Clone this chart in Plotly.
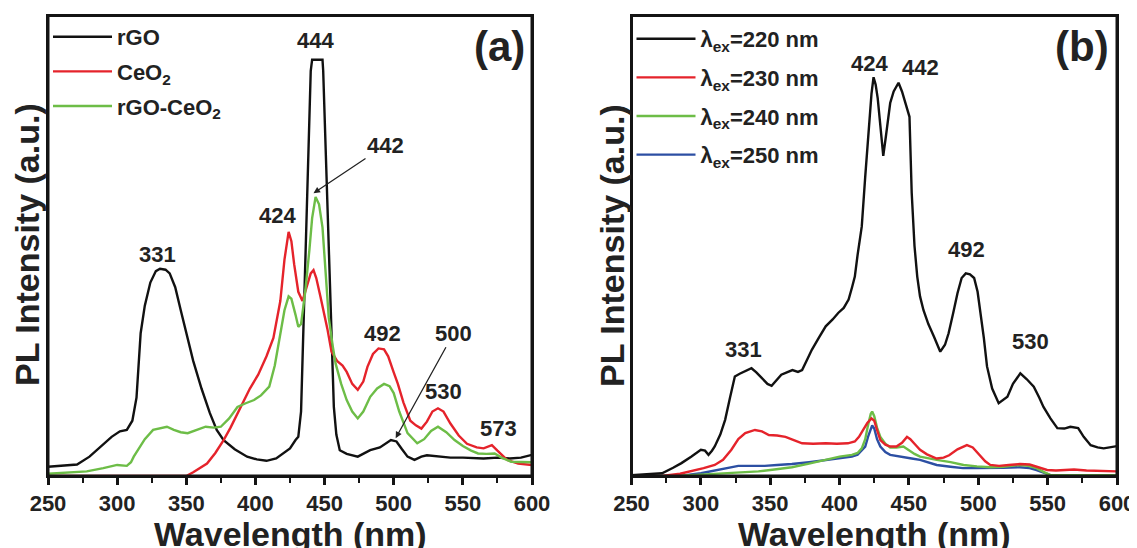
import plotly.graph_objects as go

# ---------------- Panel (a) data ----------------
wl_rgo = [250, 260, 271, 280, 288, 296, 302, 307, 311, 314, 317, 320, 324, 328, 331, 335, 338, 342, 346, 350,
          355, 361, 367, 372, 377, 385, 394, 401, 408, 415, 420, 425, 429, 431, 433, 435, 436.5, 438, 440, 441,
          448.5, 449, 451, 453, 455, 456.7, 458.5, 461, 466, 474, 483, 490, 498, 502, 506, 510, 515, 520, 524,
          532, 541, 550, 565, 575, 584, 592, 600]
int_rgo = [0.020, 0.022, 0.025, 0.042, 0.064, 0.085, 0.097, 0.100, 0.12, 0.17, 0.31, 0.37, 0.42, 0.445, 0.45,
           0.448, 0.44, 0.41, 0.36, 0.31, 0.25, 0.19, 0.137, 0.10, 0.078, 0.058, 0.042, 0.036, 0.033, 0.038, 0.05,
           0.06, 0.078, 0.085, 0.14, 0.35, 0.52, 0.70, 0.88, 0.904, 0.904, 0.88, 0.70, 0.51, 0.30, 0.15, 0.09,
           0.056, 0.048, 0.042, 0.056, 0.062, 0.078, 0.075, 0.058, 0.042, 0.035, 0.042, 0.045, 0.042, 0.040,
           0.040, 0.038, 0.040, 0.038, 0.040, 0.046]

wl_ceo2 = [250, 300, 340, 350, 355, 360, 365, 371, 377, 382, 387, 391, 396, 402, 408, 413, 418, 421, 424, 426,
           428, 431, 434, 437, 440, 442, 444, 447, 450, 452, 455, 459, 463, 466, 470, 474, 478, 481, 485, 489,
           493, 496, 500, 503, 507, 512, 516, 520, 524, 528, 532, 536, 541, 547, 553, 560, 565, 571, 575, 582,
           590, 600]
int_ceo2 = [0.0, 0.0, 0.0, 0.0, 0.008, 0.017, 0.027, 0.05, 0.078, 0.105, 0.136, 0.16, 0.19, 0.22, 0.26, 0.30,
            0.38, 0.47, 0.53, 0.51, 0.46, 0.40, 0.38, 0.41, 0.44, 0.447, 0.43, 0.39, 0.35, 0.32, 0.27, 0.25, 0.24,
            0.226, 0.20, 0.187, 0.205, 0.237, 0.265, 0.277, 0.275, 0.26, 0.225, 0.20, 0.16, 0.12, 0.11, 0.103,
            0.118, 0.14, 0.147, 0.14, 0.114, 0.088, 0.07, 0.062, 0.06, 0.067, 0.055, 0.035, 0.027, 0.024]

wl_comp = [250, 265, 278, 290, 300, 307, 310, 312, 316, 320, 326, 331, 336, 341, 346, 351, 357, 364, 370, 375,
           381, 387, 393, 399, 404, 410, 414, 417, 421, 424, 426, 429, 431, 433, 436, 439, 441, 443.5, 446, 448.5,
           451, 453, 456, 458, 462, 466, 470, 474, 478, 483, 488, 493, 497, 500, 504, 510, 517, 522, 527, 532,
           538, 544, 550, 556, 561, 567, 573, 578, 585, 592, 600]
int_comp = [0.005, 0.007, 0.01, 0.017, 0.024, 0.022, 0.03, 0.042, 0.06, 0.08, 0.10, 0.103, 0.107, 0.10, 0.095,
            0.093, 0.10, 0.107, 0.105, 0.107, 0.125, 0.15, 0.158, 0.165, 0.175, 0.194, 0.24, 0.295, 0.36, 0.39,
            0.385, 0.35, 0.324, 0.33, 0.40, 0.49, 0.56, 0.606, 0.59, 0.54, 0.44, 0.345, 0.28, 0.244, 0.20, 0.165,
            0.14, 0.125, 0.14, 0.172, 0.19, 0.20, 0.195, 0.18, 0.14, 0.093, 0.071, 0.08, 0.098, 0.107, 0.095,
            0.078, 0.065, 0.055, 0.049, 0.048, 0.049, 0.04, 0.031, 0.03, 0.03]

# ---------------- Panel (b) data ----------------
wl_220 = [250, 260, 272, 280, 286, 293, 300, 303, 305.5, 308, 310, 314, 317.5, 321, 324.5, 328, 332, 336.5, 340,
          344, 348, 351, 355, 358, 362, 366, 370, 373, 377, 380, 385, 390, 395, 399, 403, 406.5, 409, 411, 413,
          416, 418.5, 421, 423, 424.5, 426, 427.5, 429.5, 431.5, 433.5, 436.5, 439, 442.5, 445, 447.3, 450.4,
          452, 454, 456, 458, 460.5, 464, 468, 472.6, 476, 478.6, 482, 485, 488, 491, 494, 497, 499.5, 501.5,
          504, 506.3, 510, 514.7, 518, 521, 525, 530.3, 535, 540, 544, 547, 552, 557, 562, 566.4, 572, 576, 581,
          586, 590.4, 595, 600]
int_220 = [0.002, 0.004, 0.006, 0.018, 0.028, 0.042, 0.057, 0.055, 0.046, 0.055, 0.064, 0.09, 0.122, 0.17,
           0.216, 0.222, 0.228, 0.234, 0.225, 0.212, 0.200, 0.196, 0.21, 0.22, 0.225, 0.23, 0.226, 0.23, 0.255,
           0.274, 0.30, 0.325, 0.34, 0.354, 0.365, 0.383, 0.41, 0.433, 0.48, 0.542, 0.65, 0.76, 0.83, 0.866, 0.85,
           0.82, 0.75, 0.695, 0.74, 0.81, 0.835, 0.854, 0.835, 0.81, 0.78, 0.615, 0.50, 0.433, 0.39, 0.36, 0.33,
           0.303, 0.27, 0.285, 0.31, 0.355, 0.397, 0.43, 0.44, 0.438, 0.43, 0.40, 0.36, 0.30, 0.238, 0.19, 0.158,
           0.165, 0.172, 0.20, 0.223, 0.21, 0.194, 0.17, 0.15, 0.125, 0.104, 0.103, 0.107, 0.104, 0.085, 0.067,
           0.062, 0.06, 0.062, 0.065]

wl_230 = [250, 272, 285, 293, 302, 310, 316, 322, 327, 332, 339, 344, 349, 355, 361, 367, 373, 381, 390, 398,
          406, 411, 414, 417, 420, 423, 425, 427, 429.4, 433, 436.5, 441, 445, 448.6, 451, 454, 458, 463, 470,
          475, 479, 485, 491.8, 496, 501.4, 505, 508.6, 515, 522, 530, 537, 543, 549.6, 556, 562, 569, 578, 588,
          600]
int_230 = [0.0, 0.0, 0.005, 0.01, 0.017, 0.024, 0.035, 0.057, 0.08, 0.093, 0.10, 0.097, 0.089, 0.088, 0.085,
           0.078, 0.071, 0.07, 0.071, 0.07, 0.071, 0.075, 0.085, 0.10, 0.115, 0.125, 0.12, 0.10, 0.078, 0.068,
           0.064, 0.064, 0.072, 0.085, 0.08, 0.07, 0.057, 0.047, 0.038, 0.04, 0.045, 0.058, 0.067, 0.062, 0.045,
           0.032, 0.024, 0.022, 0.024, 0.026, 0.025, 0.02, 0.013, 0.012, 0.013, 0.014, 0.012, 0.011, 0.01]

wl_240 = [250, 280, 300, 317.5, 330, 341.5, 353, 365.6, 378, 389.6, 400, 408.9, 413, 416, 418.5, 420.5, 422.5,
          423.5, 425, 427, 429.4, 433, 436.5, 441, 446, 450, 454, 458, 464, 470, 480, 489.4, 499, 508.6, 518,
          525, 530, 536, 542, 547, 552, 575, 600]
int_240 = [0.0, 0.0, 0.003, 0.006, 0.008, 0.01, 0.014, 0.019, 0.027, 0.035, 0.042, 0.046, 0.05, 0.06, 0.08,
           0.11, 0.135, 0.14, 0.13, 0.105, 0.085, 0.07, 0.062, 0.062, 0.064, 0.056, 0.048, 0.042, 0.038, 0.035,
           0.03, 0.024, 0.021, 0.019, 0.02, 0.023, 0.024, 0.022, 0.017, 0.009, 0.002, 0.002, 0.002]

wl_250 = [250, 285, 300, 310, 317.5, 327, 337, 346, 355, 365.6, 378, 389.6, 400, 408.9, 413, 416, 418.5, 420.5,
          422.5, 423.5, 425, 427, 429.4, 433, 436.5, 441, 446, 452, 458, 464, 470, 480, 489, 499, 508.6, 518,
          530, 537, 542, 547, 552, 575, 600]
int_250 = [0.0, 0.0, 0.006, 0.012, 0.017, 0.022, 0.022, 0.022, 0.024, 0.026, 0.03, 0.035, 0.038, 0.042, 0.046,
           0.055, 0.064, 0.085, 0.105, 0.11, 0.103, 0.08, 0.064, 0.052, 0.046, 0.044, 0.042, 0.038, 0.035, 0.03,
           0.024, 0.02, 0.017, 0.017, 0.017, 0.018, 0.019, 0.017, 0.013, 0.007, 0.002, 0.001, 0.001]

names_a = ["rGO", "CeO<sub>2</sub>", "rGO-CeO<sub>2</sub>"]
names_b = ["λ<sub>ex</sub>=220 nm", "λ<sub>ex</sub>=230 nm", "λ<sub>ex</sub>=240 nm", "λ<sub>ex</sub>=250 nm"]
tick_vals = [250, 300, 350, 400, 450, 500, 550, 600]
y_range = [0, 1]

BLACK = "#111111"
RED = "#e5232b"
GREEN = "#6dbd47"
BLUE = "#2c4fa3"
FRAME = "#141414"
FONT = "Liberation Sans, Arial, sans-serif"
TXT = "#222222"

# the page body adds an 8 px offset; figure sized so that it fills the window
OFF = 8
W, H = 1137 - OFF, 548 - OFF


def px(x):
    return (x - OFF) / W


def py(y):
    return 1 - (y - OFF) / H


fig = go.Figure()

series_a = [(wl_rgo, int_rgo, BLACK), (wl_ceo2, int_ceo2, RED), (wl_comp, int_comp, GREEN)]
for i, (x, y, c) in enumerate(series_a):
    fig.add_trace(go.Scatter(x=x, y=y, mode="lines", name=names_a[i], line=dict(color=c, width=2.4),
                             xaxis="x", yaxis="y", legend="legend", legendgroup="a%d" % i))

series_b = [(wl_220, int_220, BLACK), (wl_230, int_230, RED), (wl_240, int_240, GREEN), (wl_250, int_250, BLUE)]
order_b = [3, 2, 1, 0]
for i in order_b:
    x, y, c = series_b[i]
    fig.add_trace(go.Scatter(x=x, y=y, mode="lines", name=names_b[i], line=dict(color=c, width=2.4),
                             xaxis="x2", yaxis="y2", legend="legend2", legendgroup="b%d" % i,
                             legendrank=i + 1))

# panel frames: the border of each plot area, traced along the axis ranges
x_lo, x_hi = tick_vals[0], tick_vals[-1]
y_lo, y_hi = y_range
for xa, ya in [("x", "y"), ("x2", "y2")]:
    fig.add_trace(go.Scatter(x=[x_lo, x_hi, x_hi, x_lo, x_lo], y=[y_lo, y_lo, y_hi, y_hi, y_lo],
                             mode="lines", line=dict(color=FRAME, width=3), showlegend=False,
                             hoverinfo="skip", cliponaxis=False, xaxis=xa, yaxis=ya))

step = tick_vals[1] - tick_vals[0]
xcommon = dict(range=[x_lo, x_hi], tickmode="linear", tick0=x_lo, dtick=step,
               showline=True, linecolor=FRAME, linewidth=2, mirror=True,
               ticks="outside", ticklen=7, tickwidth=2.5, tickcolor=FRAME,
               minor=dict(dtick=step / 2, ticks="outside", ticklen=5, tickwidth=2, tickcolor=FRAME),
               showgrid=False, zeroline=False, automargin=False,
               tickfont=dict(family=FONT, size=22, color=TXT, weight="bold"))
ycommon = dict(range=y_range, showline=True, linecolor=FRAME, linewidth=2, mirror=True,
               ticks="", showticklabels=False, showgrid=False, zeroline=False, automargin=False)

legfont = dict(family=FONT, size=22, color=TXT, weight="bold")
fig.update_layout(
    template="none",
    width=W, height=H, margin=dict(l=0, r=0, t=0, b=0, pad=0, autoexpand=False),
    paper_bgcolor="white", plot_bgcolor="rgba(0,0,0,0)",
    xaxis=dict(domain=[px(48), px(532)], anchor="y", **xcommon),
    yaxis=dict(domain=[py(476), py(15.5)], anchor="x", **ycommon),
    xaxis2=dict(domain=[px(631.5), px(1117)], anchor="y2", **xcommon),
    yaxis2=dict(domain=[py(476), py(15.5)], anchor="x2", **ycommon),
    legend=dict(x=px(48), y=py(16), xanchor="left", yanchor="top", bgcolor="rgba(0,0,0,0)",
                borderwidth=0, font=legfont, itemwidth=59, tracegroupgap=3, traceorder="grouped"),
    legend2=dict(x=px(631.5), y=py(18), xanchor="left", yanchor="top", bgcolor="rgba(0,0,0,0)",
                 borderwidth=0, font=legfont, itemwidth=59, tracegroupgap=7, traceorder="grouped"),
    showlegend=True,
)

lab = dict(family=FONT, size=22, color=TXT, weight="bold")
ann = []
# panel (a) peak labels
for txt, x, y in [("331", 329, 0.48), ("424", 415.7, 0.566), ("444", 443.5, 0.946), ("492", 491.8, 0.31),
                  ("530", 536.2, 0.183), ("573", 576, 0.104)]:
    ann.append(dict(text=txt, x=x, y=y, xref="x", yref="y", showarrow=False, font=lab,
                    xanchor="center", yanchor="middle"))
ann.append(dict(text="442", x=442, y=0.614, xref="x", yref="y", ax=72, ay=-48, showarrow=True,
                arrowhead=2, arrowsize=1, arrowwidth=1.3, arrowcolor=TXT, font=lab))
ann.append(dict(text="500", x=501.4, y=0.082, xref="x", yref="y", ax=58, ay=-105, showarrow=True,
                arrowhead=2, arrowsize=1, arrowwidth=1.3, arrowcolor=TXT, font=lab))
# panel (b) peak labels
for txt, x, y in [("331", 330.7, 0.274), ("424", 421.4, 0.896), ("442", 458, 0.887), ("492", 491.8, 0.491),
                  ("530", 537.5, 0.292)]:
    ann.append(dict(text=txt, x=x, y=y, xref="x2", yref="y2", showarrow=False, font=lab,
                    xanchor="center", yanchor="middle"))
# panel letters
big = dict(family=FONT, size=42, color=TXT, weight="bold")
ann.append(dict(text="(a)", x=px(500), y=py(46), xref="paper", yref="paper", showarrow=False, font=big,
                xanchor="center", yanchor="middle"))
ann.append(dict(text="(b)", x=px(1082), y=py(46), xref="paper", yref="paper", showarrow=False, font=big,
                xanchor="center", yanchor="middle"))
# axis titles
tfont = dict(family=FONT, size=34, color=TXT, weight="bold")
ann.append(dict(text="Wavelength (nm)", x=px(290), y=py(534), xref="paper", yref="paper",
                showarrow=False, font=tfont, xanchor="center", yanchor="middle"))
ann.append(dict(text="Wavelength (nm)", x=px(874), y=py(534), xref="paper", yref="paper",
                showarrow=False, font=tfont, xanchor="center", yanchor="middle"))
ann.append(dict(text="PL Intensity (a.u.)", x=px(27), y=py(245), xref="paper", yref="paper",
                showarrow=False, textangle=-90, font=tfont, xanchor="center", yanchor="middle"))
ann.append(dict(text="PL Intensity (a.u.)", x=px(612), y=py(246), xref="paper", yref="paper",
                showarrow=False, textangle=-90, font=tfont, xanchor="center", yanchor="middle"))
fig.update_layout(annotations=ann)

fig.write_html("out.html")
